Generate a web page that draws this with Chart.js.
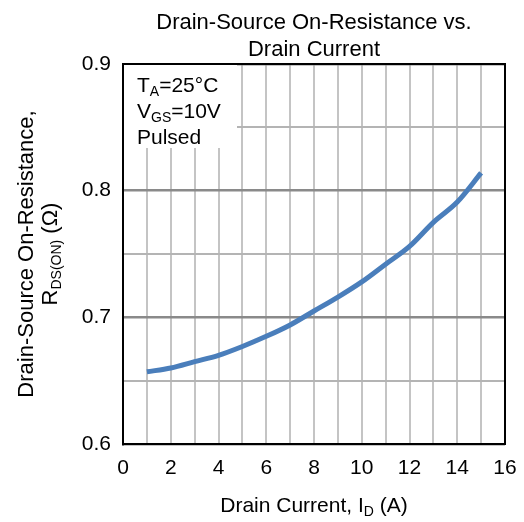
<!DOCTYPE html>
<html>
<head>
<meta charset="utf-8">
<script src="https://cdn.jsdelivr.net/npm/chart.js@4"></script>
<style>
  html, body { margin: 0; padding: 0; background: #fff; }
  canvas { display: block; }
</style>
</head>
<body>
<canvas id="rdsChart" width="524" height="522"></canvas>
<script>
// ── Data ────────────────────────────────────────────────────
const drainCurrent = [1, 2, 3, 4, 5, 6, 7, 8, 9, 10, 11, 12, 13, 14, 15];
const onResistance = [0.657, 0.660, 0.665, 0.670, 0.677, 0.685, 0.694, 0.705,
                      0.716, 0.728, 0.742, 0.756, 0.775, 0.791, 0.814];
const titleLines = ["Drain-Source On-Resistance vs.", "Drain Current"];
const noteLines = [
  [{ t: "T" }, { t: "A", sub: true }, { t: "=25°C" }],
  [{ t: "V" }, { t: "GS", sub: true }, { t: "=10V" }],
  [{ t: "Pulsed" }],
];
const xTitle = [{ t: "Drain Current, I" }, { t: "D", sub: true }, { t: " (A)" }];
const yTitle1 = [{ t: "Drain-Source On-Resistance," }];
const yTitle2 = [{ t: "R" }, { t: "DS(ON)", sub: true }, { t: " (Ω)" }];

const FONT = "'Liberation Sans', Arial, sans-serif";
const SUB = "14px " + FONT;

// ── Rich text helper (subscripts) ───────────────────────────
function richWidth(ctx, parts, main) {
  let w = 0;
  parts.forEach((p) => {
    ctx.font = p.sub ? SUB : main;
    w += ctx.measureText(p.t).width;
  });
  return w;
}

function drawRich(ctx, parts, x, y, align, size) {
  const main = (size || 21) + "px " + FONT;
  let cx = align === "center" ? x - richWidth(ctx, parts, main) / 2 : x;
  ctx.textAlign = "left";
  ctx.textBaseline = "alphabetic";
  ctx.fillStyle = "#000";
  parts.forEach((p) => {
    ctx.font = p.sub ? SUB : main;
    ctx.fillText(p.t, cx, p.sub ? y + 4 : y);
    cx += ctx.measureText(p.t).width;
  });
}

// ── Decorations plugin ──────────────────────────────────────
const decorations = {
  id: "decorations",
  beforeDatasetsDraw(chart) {
    const { ctx, chartArea: a } = chart;
    ctx.save();
    // white note box over the grid
    ctx.fillStyle = "#fff";
    ctx.fillRect(a.left + 1, a.top + 1, 113, 83);
    noteLines.forEach((line, i) => drawRich(ctx, line, 137, 92 + i * 26, "left"));
    ctx.restore();
  },
  afterDraw(chart) {
    const { ctx, chartArea: a } = chart;
    ctx.save();
    ctx.strokeStyle = "#000";
    ctx.lineWidth = 2;
    ctx.strokeRect(a.left, a.top, a.right - a.left, a.bottom - a.top);

    const cx = (a.left + a.right) / 2;
    titleLines.forEach((t, i) => drawRich(ctx, [{ t }], cx, 29 + i * 27, "center", 22));
    drawRich(ctx, xTitle, cx, 512, "center");

    const cy = (a.top + a.bottom) / 2;
    ctx.translate(0, cy);
    ctx.rotate(-Math.PI / 2);
    drawRich(ctx, yTitle1, 0, 33, "center", 22);
    drawRich(ctx, yTitle2, 0, 57, "center", 22);
    ctx.restore();
  },
};

// ── Chart ───────────────────────────────────────────────────
const ctx = document.getElementById("rdsChart").getContext("2d");
new Chart(ctx, {
  type: "line",
  data: {
    datasets: [{
      data: drainCurrent.map((x, i) => ({ x, y: onResistance[i] })),
      borderColor: "#4a7ebb",
      borderWidth: 5,
      pointRadius: 0,
      cubicInterpolationMode: "monotone",
      fill: false,
    }],
  },
  options: {
    responsive: false,
    animation: false,
    layout: { padding: { top: 64, right: 19, left: 0, bottom: 0 } },
    plugins: { legend: { display: false }, tooltip: { enabled: false } },
    scales: {
      x: {
        type: "linear",
        min: 0,
        max: 16,
        afterFit: (s) => { s.height = 78; s.paddingLeft = 0; s.paddingRight = 0; },
        border: { color: "#000", width: 2 },
        grid: {
          drawTicks: false,
          color: "#c4c4c4",
          lineWidth: 2,
        },
        ticks: {
          stepSize: 1,
          autoSkip: false,
          maxRotation: 0,
          padding: 12,
          color: "#000",
          font: { family: FONT, size: 21 },
          callback: (v) => (v % 2 === 0 ? String(v) : ""),
        },
      },
      y: {
        min: 0.6,
        max: 0.9,
        afterFit: (s) => { s.width = 123; s.paddingTop = 0; s.paddingBottom = 0; },
        border: { color: "#000", width: 2 },
        grid: {
          drawTicks: false,
          color: (c) => (Math.round(c.tick.value * 100) % 10 === 0 ? "#8a8a8a" : "#b4b4b4"),
          lineWidth: (c) => (Math.round(c.tick.value * 100) % 10 === 0 ? 2.5 : 2),
        },
        ticks: {
          stepSize: 0.05,
          padding: 12,
          color: "#000",
          font: { family: FONT, size: 21 },
          callback: (v) => (Math.round(v * 100) % 10 === 0 ? v.toFixed(1) : ""),
        },
      },
    },
  },
  plugins: [decorations],
});
</script>
</body>
</html>
